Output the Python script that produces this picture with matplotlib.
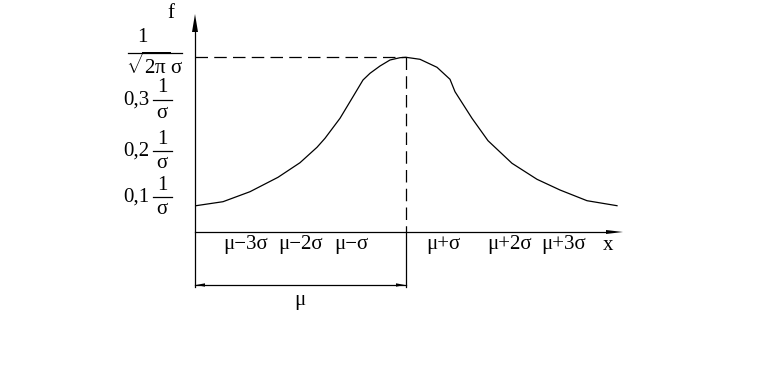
import matplotlib
matplotlib.use("Agg")
import matplotlib.pyplot as plt

plt.rcParams['font.family'] = ['Liberation Serif', 'DejaVu Serif']
plt.rcParams['mathtext.fontset'] = 'custom'
plt.rcParams['mathtext.rm'] = 'Liberation Serif'
plt.rcParams['mathtext.it'] = 'Liberation Serif:italic'

# curve (horizontal position, height) in drawing units (pixels of the reference)
curve_x = [196, 223, 250, 278, 300, 317, 325, 340, 353, 363, 370, 380, 390,
           400, 406, 420, 437, 450, 455, 472, 488, 512, 537, 560, 587, 617]
curve_y = [205.7, 201.7, 191.7, 177.3, 162.7, 147.3, 138.3, 118.3, 96.7, 80,
           73.3, 66, 60, 57.7, 57.3, 59.3, 67.3, 79.3, 91.7, 118.3, 140.7,
           163.3, 179.3, 190, 200.7, 205.7]

x_tick_labels = ["μ−3σ", "μ−2σ", "μ−σ", "μ+σ", "μ+2σ", "μ+3σ", "x"]
x_tick_pos = [246, 301, 351, 443, 510, 564, 608]

y_fraction_prefix = ["0,3", "0,2", "0,1"]
y_fraction_pos = [100, 151, 197]

peak_x, peak_y = 406, 57
axis_x, axis_y = 195, 232

fig = plt.figure(figsize=(7.71, 3.88), dpi=100)
ax = fig.add_axes([0, 0, 1, 1])
ax.set_xlim(0, 771)
ax.set_ylim(388, 0)
ax.axis('off')

lw = 0.9
fs = 15
# axes
ax.plot([axis_x, axis_x], [287, 30], color='black', lw=lw)
ax.plot([axis_x, 607], [axis_y, axis_y], color='black', lw=lw)
ax.fill([axis_x - 3, axis_x + 3, axis_x], [32, 32, 14], color='black', lw=0)
ax.fill([606, 606, 623], [axis_y - 2, axis_y + 2, axis_y], color='black', lw=0)

# curve
ax.plot(curve_x, curve_y, color='black', lw=lw)

# dashed guides
ax.plot([axis_x, peak_x], [peak_y, peak_y], color='black', lw=lw,
        linestyle=(0, (10, 5)))
ax.plot([peak_x, peak_x], [peak_y, axis_y], color='black', lw=lw,
        linestyle=(0, (10, 5)))
ax.plot([peak_x, peak_x], [axis_y, 287], color='black', lw=lw)

# mu bracket
ax.plot([axis_x, peak_x], [285, 285], color='black', lw=lw)
ax.fill([axis_x + 1, 205, 205], [285, 283.3, 286.7], color='black', lw=0)
ax.fill([peak_x - 1, 396, 396], [285, 283.3, 286.7], color='black', lw=0)
ax.text(300, 301, "μ", fontsize=fs, ha='center', va='center')

# x labels
for lab, xp in zip(x_tick_labels, x_tick_pos):
    ax.text(xp, 245, lab, fontsize=fs, ha='center', va='center')

# f label
ax.text(171, 14, "f", fontsize=fs, ha='center', va='center')

# top fraction 1/(sqrt(2pi) sigma)
ax.text(142, 37, "1", fontsize=fs, ha='center', va='center')
ax.plot([128, 182], [53, 53], color='black', lw=lw)
ax.text(155, 66, r"$\sqrt{2\mathrm{\pi}}\,\mathrm{\sigma}$", fontsize=fs,
        ha='center', va='center')

# other fractions
for pre, yp in zip(y_fraction_prefix, y_fraction_pos):
    ax.text(136, yp, pre, fontsize=fs, ha='center', va='center')
    ax.text(162, yp - 12, "1", fontsize=fs, ha='center', va='center')
    ax.plot([153, 172], [yp, yp], color='black', lw=lw)
    ax.text(162, yp + 13, "σ", fontsize=fs, ha='center', va='center')

fig.savefig("out.png", dpi=100)
